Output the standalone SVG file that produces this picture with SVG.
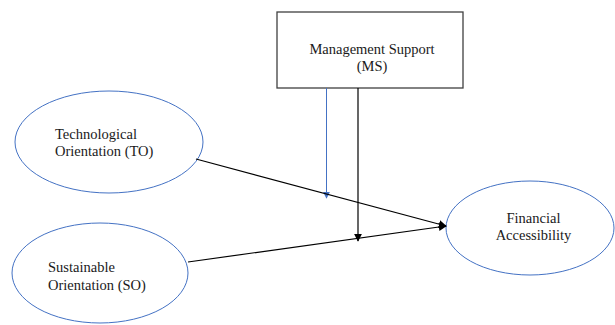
<svg xmlns="http://www.w3.org/2000/svg" width="615" height="325" viewBox="0 0 615 325">
  <style>
    .lbl { font-family: "Liberation Serif", "Times New Roman", Times, serif; font-size: 14.5px; fill: #1a1a1a; }
    .ell { fill: #ffffff; stroke: #4472c4; stroke-width: 1; }
    .box { fill: #ffffff; stroke: #404040; stroke-width: 1.3; }
    .edge { fill: none; stroke: #000000; stroke-width: 1.2; }
    .edge-blue { fill: none; stroke: #4472c4; stroke-width: 1; }
  </style>
  <defs>
    <marker id="arrow" viewBox="0 0 10 10" refX="9" refY="5" markerWidth="8" markerHeight="8" markerUnits="userSpaceOnUse" orient="auto">
      <path d="M0,0 L10,5 L0,10 z" fill="#000000"/>
    </marker>
    <marker id="arrow-blue" viewBox="0 0 10 10" refX="9" refY="5" markerWidth="7" markerHeight="7" markerUnits="userSpaceOnUse" orient="auto">
      <path d="M0,0 L10,5 L0,10 z" fill="#4472c4"/>
    </marker>
  </defs>
  <rect width="615" height="325" fill="#ffffff"/>

  <g id="ms">
    <rect class="box" x="277" y="12" width="186" height="76"/>
    <text class="lbl" x="372" y="54" text-anchor="middle">Management Support</text>
    <text class="lbl" x="372" y="71" text-anchor="middle">(MS)</text>
  </g>

  <g id="to">
    <ellipse class="ell" cx="109" cy="142" rx="94" ry="51"/>
    <text class="lbl" x="55" y="139">Technological</text>
    <text class="lbl" x="55" y="156">Orientation (TO)</text>
  </g>

  <g id="so">
    <ellipse class="ell" cx="100" cy="273" rx="88" ry="50"/>
    <text class="lbl" x="48" y="272">Sustainable</text>
    <text class="lbl" x="48" y="290">Orientation (SO)</text>
  </g>

  <g id="fa">
    <ellipse class="ell" cx="530" cy="228" rx="84" ry="47"/>
    <text class="lbl" x="533.5" y="223" text-anchor="middle">Financial</text>
    <text class="lbl" x="533.5" y="240" text-anchor="middle">Accessibility</text>
  </g>

  <g id="connectors">
    <line class="edge-blue" x1="326.5" y1="88" x2="326.5" y2="198" marker-end="url(#arrow-blue)"/>
    <line class="edge" x1="358" y1="88" x2="358" y2="241" marker-end="url(#arrow)"/>
    <line class="edge" x1="196" y1="159" x2="446" y2="226" marker-end="url(#arrow)"/>
    <line class="edge" x1="188" y1="262" x2="446" y2="226" marker-end="url(#arrow)"/>
  </g>
</svg>
